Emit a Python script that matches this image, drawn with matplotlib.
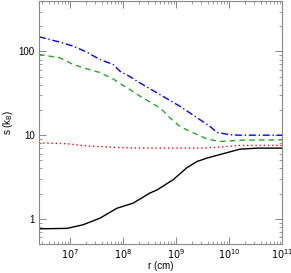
import matplotlib
matplotlib.use('Agg')
import matplotlib.pyplot as plt
from matplotlib.ticker import LogLocator, FixedLocator, FixedFormatter, NullFormatter

plt.rcParams['font.family'] = ['Liberation Sans', 'DejaVu Sans']

# entropie par baryon en fonction du rayon
r_bleu = [2.6e6, 6.5e6, 1.14e7, 2.09e7, 3.68e7, 6.5e7, 8.8e7, 1.36e8, 2.1e8,
          5.0e8, 1.19e9, 2.84e9, 4.4e9, 5.9e9, 1.05e10, 1.6e10, 1e11]
s_bleu = [150, 129, 116, 98, 80, 70, 58, 50, 42, 30.5, 22.1, 15.3, 12.7,
          10.8, 10.1, 10.0, 10.0]

r_vert = [2.6e6, 6.5e6, 1.14e7, 2.09e7, 3.68e7, 6.5e7, 8.8e7, 1.36e8, 2.1e8,
          5.0e8, 7.7e8, 1.19e9, 1.84e9, 3.85e9, 6.8e9, 1.6e10, 1e11]
s_vert = [92, 84, 70, 62, 56, 47, 41.4, 35, 29.2, 21.2, 16.1, 12.7, 11.1,
          9.0, 8.4, 8.7, 8.8]

r_rouge = [2.6e6, 8.8e6, 1.76e7, 3.68e7, 8.8e7, 3.2e8, 2.84e9, 6.8e9,
           1.6e10, 1e11]
s_rouge = [8.1, 7.9, 7.5, 7.3, 7.1, 7.0, 7.0, 7.2, 7.55, 7.55]

r_noir = [2.6e6, 8.8e6, 1.76e7, 3.68e7, 7.7e7, 1.55e8, 3.2e8, 4.4e8, 8.8e8,
          1.6e9, 2.5e9, 3.85e9, 7.7e9, 1.6e10, 3.4e10, 1e11]
s_noir = [0.76, 0.77, 0.85, 1.02, 1.34, 1.54, 2.03, 2.22, 2.93, 4.08, 4.85,
          5.33, 6.0, 6.8, 7.0, 7.0]

xticks = [1e7, 1e8, 1e9, 1e10, 1e11]
xlabels = ['$10^{7}$', '$10^{8}$', '$10^{9}$', '$10^{10}$', '$10^{11}$']
yticks = [1, 10, 100]
ylabels = ['1', '10', '100']

fig = plt.figure(figsize=(2.91, 2.73), dpi=100)
ax = fig.add_axes([0.134, 0.106, 0.835, 0.89])

ax.plot(r_noir, s_noir, color='black', lw=1.0, ls='-')
ax.plot(r_rouge, s_rouge, color='red', lw=1.0, ls=(0, (1, 2)))
ax.plot(r_vert, s_vert, color='#22aa22', lw=1.0, ls=(0, (4, 3)))
ax.plot(r_bleu, s_bleu, color='blue', lw=1.0, ls=(0, (5, 2, 1, 2)))

ax.set_xscale('log')
ax.set_yscale('log')
ax.set_xlim(2.6e6, 1e11)
ax.set_ylim(0.5, 400)

ax.xaxis.set_major_locator(FixedLocator(xticks))
ax.xaxis.set_major_formatter(FixedFormatter(xlabels))
ax.xaxis.set_minor_locator(LogLocator(base=10, subs=range(2, 10), numticks=20))
ax.xaxis.set_minor_formatter(NullFormatter())
ax.yaxis.set_major_locator(FixedLocator(yticks))
ax.yaxis.set_major_formatter(FixedFormatter(ylabels))
ax.yaxis.set_minor_locator(LogLocator(base=10, subs=range(2, 10), numticks=20))
ax.yaxis.set_minor_formatter(NullFormatter())

for sp in ax.spines.values():
    sp.set_color('#888888')
    sp.set_linewidth(0.8)
ax.tick_params(which='both', direction='in', top=True, right=True,
               color='#888888', labelsize=7)
ax.tick_params(axis='x', pad=2)
ax.tick_params(axis='y', pad=3)
ax.tick_params(which='major', length=5, width=0.7)
ax.tick_params(which='minor', length=2.5, width=0.6)

ax.set_xlabel('r (cm)', fontsize=7, labelpad=0)
ax.set_ylabel('s (k$_{\\rm B}$)', fontsize=7, labelpad=3)

fig.savefig('out.png', dpi=100)
